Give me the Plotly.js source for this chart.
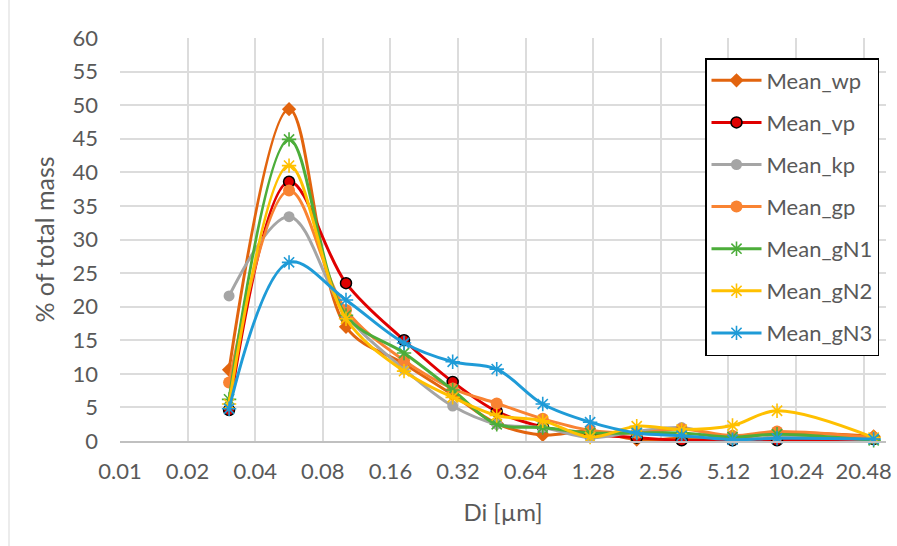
<!DOCTYPE html>
<html>
<head>
<meta charset="utf-8">
<script src="https://cdn.plot.ly/plotly-3.0.1.min.js"></script>
<style>
html,body{margin:0;padding:0;background:#fff;}
#chart{width:897px;height:546px;}
</style>
</head>
<body>
<div id="chart"></div>
<script>
// Particle diameters (µm) and series values (% of total mass)
const diam = [0.0306, 0.0566, 0.1015, 0.184, 0.303, 0.476, 0.763, 1.24, 2.0, 3.17, 5.34, 8.43, 22.7];
const meanWp  = [10.6, 49.4, 17.0, 11.5, 6.9, 2.6, 0.9, 1.5, 0.2, 0.4, 0.3, 1.2, 0.7];
const meanVp  = [4.6, 38.6, 23.5, 15.0, 8.8, 4.4, 2.1, 1.0, 0.5, 0.1, 0.1, 0.1, 0.3];
const meanKp  = [21.6, 33.4, 18.8, 10.7, 5.2, 2.5, 2.0, 0.5, 1.4, 2.0, 0.2, 0.6, 0.4];
const meanGp  = [8.7, 37.3, 19.5, 12.0, 7.8, 5.6, 3.3, 1.6, 1.2, 1.8, 0.8, 1.4, 0.5];
const meanGN1 = [6.2, 44.9, 18.7, 13.1, 7.6, 2.5, 2.0, 1.2, 1.2, 1.2, 0.6, 1.0, 0.1];
const meanGN2 = [5.5, 41.0, 18.2, 10.4, 6.5, 3.8, 3.0, 0.6, 2.2, 1.7, 2.3, 4.5, 0.5];
const meanGN3 = [4.8, 26.6, 21.0, 14.6, 11.8, 10.7, 5.5, 2.8, 1.2, 0.8, 0.2, 0.4, 0.3];

const seriesNames = ["Mean_wp","Mean_vp","Mean_kp","Mean_gp","Mean_gN1","Mean_gN2","Mean_gN3"];
const xTickVals = [0.01,0.02,0.04,0.08,0.16,0.32,0.64,1.28,2.56,5.12,10.24,20.48];
const xTickText = ["0.01","0.02","0.04","0.08","0.16","0.32","0.64","1.28","2.56","5.12","10.24","20.48"];
const yTickVals = [0,5,10,15,20,25,30,35,40,45,50,55,60];

const styles = [
  {color:"#E2640E", marker:{symbol:"diamond", size:11, color:"#E2640E"}},
  {color:"#E00000", marker:{symbol:"circle", size:11, color:"#E00000", line:{color:"#000", width:1.5}}},
  {color:"#A5A5A5", marker:{symbol:"circle", size:11, color:"#A5A5A5"}},
  {color:"#F98332", marker:{symbol:"circle", size:12, color:"#F98332"}},
  {color:"#4CAD3A", marker:{symbol:"asterisk-open", size:12, color:"#4CAD3A", line:{color:"#4CAD3A", width:1.6}}},
  {color:"#FFC000", marker:{symbol:"asterisk-open", size:12, color:"#FFC000", line:{color:"#FFC000", width:1.6}}},
  {color:"#1F9BD7", marker:{symbol:"asterisk-open", size:12, color:"#1F9BD7", line:{color:"#1F9BD7", width:1.6}}}
];
const allY = [meanWp, meanVp, meanKp, meanGp, meanGN1, meanGN2, meanGN3];

const traces = allY.map((ys, i) => ({
  type: "scatter",
  mode: "lines+markers",
  name: seriesNames[i],
  legendgroup: "g" + i,
  x: diam,
  y: ys,
  line: {color: styles[i].color, width: 3, shape: "spline", smoothing: 1},
  marker: styles[i].marker,
  cliponaxis: false
}));

const L = 120, R = 886, T = 38, B = 441;
const PX_PER_OCTAVE = 67.6;
const xMaxLog = Math.log10(0.01) + ((R - L) / PX_PER_OCTAVE) * Math.log10(2);
const layout = {
  width: 897, height: 546,
  margin: {l: L, r: 897 - R, t: T, b: 546 - B},
  paper_bgcolor: "#fff", plot_bgcolor: "#fff",
  font: {family: "Lato, 'Open Sans', sans-serif", color: "#595959", size: 22},
  showlegend: true,
  legend: {
    x: (705 - L) / (R - L), y: (B - 58) / (B - T),
    xanchor: "left", yanchor: "top",
    bordercolor: "#000", borderwidth: 1.5, bgcolor: "#fff",
    font: {size: 22, color: "#595959"},
    traceorder: "grouped", tracegroupgap: 10.5,
    itemwidth: 50
  },
  xaxis: {
    type: "log",
    range: [Math.log10(0.01), xMaxLog],
    tickvals: xTickVals, ticktext: xTickText,
    showgrid: true, gridcolor: "#dcdcdc", gridwidth: 2,
    showline: true, linecolor: "#c0c0c0", linewidth: 2,
    zeroline: false, ticks: "", ticklabelstandoff: 10,
    ticklabeloverflow: "allow",
    tickfont: {size: 22, color: "#595959"},
    title: {text: "Di [µm]", font: {size: 24, color: "#595959"}, standoff: 21}
  },
  yaxis: {
    range: [0, 60],
    tickvals: yTickVals,
    showgrid: true, gridcolor: "#dcdcdc", gridwidth: 2,
    zeroline: false, showline: false, ticks: "", ticklabelstandoff: 21,
    tickfont: {size: 22, color: "#595959"},
    title: {text: "% of total mass", font: {size: 25, color: "#595959"}, standoff: 10}
  },
  shapes: [
    {type: "line", xref: "paper", yref: "paper",
     x0: (9 - L) / (R - L), x1: (9 - L) / (R - L),
     y0: (B - 0) / (B - T), y1: (B - 546) / (B - T),
     line: {color: "#d9d9d9", width: 1}}
  ]
};

Plotly.newPlot("chart", traces, layout, {displayModeBar: false, staticPlot: true});
</script>
</body>
</html>
